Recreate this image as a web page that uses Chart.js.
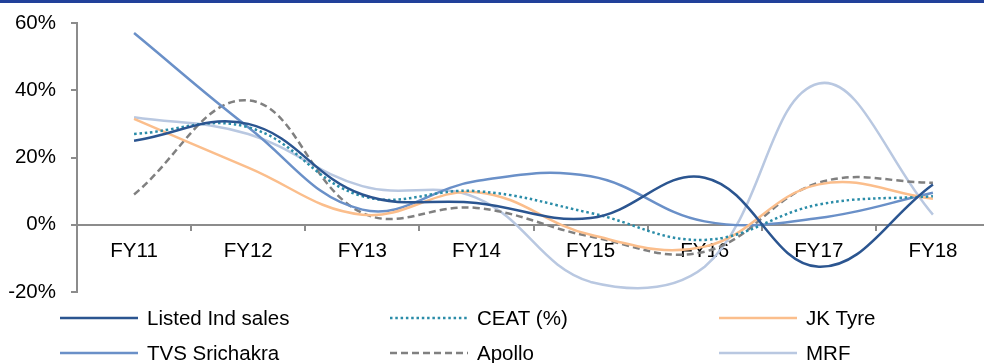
<!DOCTYPE html>
<html>
<head>
<meta charset="utf-8">
<script src="https://cdn.jsdelivr.net/npm/chart.js@4.4.1/dist/chart.umd.min.js"></script>
<style>
  html, body { margin: 0; padding: 0; background: #fff; overflow: hidden; }
  #wrap { position: relative; width: 984px; height: 363px; overflow: hidden; }
  #topBar { position: absolute; left: 0; top: 0; width: 984px; height: 3px; background: #21409a; }
  canvas { position: absolute; left: 0; top: 0; }
</style>
</head>
<body>
<div id="wrap">
  <canvas id="growthChart" width="994" height="363"></canvas>
  <div id="topBar"></div>
</div>
<script>
// yearly growth, in percent
const years = ['FY11', 'FY12', 'FY13', 'FY14', 'FY15', 'FY16', 'FY17', 'FY18'];
const listedIndSales = [25, 30, 9, 6.5, 2, 14, -12.5, 12];
const ceat = [27, 29, 8.5, 10, 3.5, -4.5, 6, 8.5];
const jkTyre = [31.5, 17, 3, 9.7, -3, -6.5, 12, 7.7];
const tvsSrichakra = [57, 29, 4.5, 13, 14.4, 1, 2, 9.5];
const apollo = [9, 37, 3.5, 5, -3.5, -8, 12.5, 12.5];
const mrf = [32, 27, 11.5, 8, -17, -12.5, 42, 3];
const yMin = -20;
const yMax = 60;
const yStep = 20;

const FONT = '"Liberation Sans", Arial, sans-serif';
const FONT_SIZE = 20.5;
const AXIS_GREY = '#8c8c8c';

const series = (label, data, color, dash) => ({
  label,
  data,
  borderColor: color,
  backgroundColor: color,
  borderWidth: 2.5,
  borderDash: dash || [],
  pointRadius: 0,
  pointHoverRadius: 0,
  tension: 0.4,
  fill: false,
});

// legend laid out as a 3 x 2 grid under the plot
const gridLegend = {
  id: 'gridLegend',
  afterDraw(chart) {
    const ctx = chart.ctx;
    const colX = [60, 390, 719];
    const rowY = [318, 353];
    ctx.save();
    ctx.font = FONT_SIZE + 'px ' + FONT;
    ctx.textBaseline = 'middle';
    ctx.fillStyle = '#000';
    chart.data.datasets.forEach((ds, i) => {
      const x = colX[i % 3];
      const y = rowY[Math.floor(i / 3)];
      ctx.strokeStyle = ds.borderColor;
      ctx.lineWidth = ds.borderWidth;
      ctx.setLineDash(ds.borderDash);
      ctx.beginPath();
      ctx.moveTo(x, y);
      ctx.lineTo(x + 78, y);
      ctx.stroke();
      ctx.fillText(ds.label, x + 87, y + 1);
    });
    ctx.restore();
  },
};

const ctx = document.getElementById('growthChart').getContext('2d');
new Chart(ctx, {
  type: 'line',
  data: {
    labels: years,
    datasets: [
      series('Listed Ind sales', listedIndSales, '#2b5590'),
      series('CEAT (%)', ceat, '#2a8ca8', [2.5, 2.8]),
      series('JK Tyre', jkTyre, '#fbbe8c'),
      series('TVS Srichakra', tvsSrichakra, '#6a90c8'),
      series('Apollo', apollo, '#808080', [7, 4]),
      series('MRF', mrf, '#b9c8e1'),
    ],
  },
  options: {
    responsive: false,
    animation: false,
    layout: { padding: { top: 23, right: 4, bottom: 71, left: 0 } },
    plugins: {
      legend: { display: false },
      tooltip: { enabled: false },
    },
    scales: {
      x: {
        type: 'category',
        position: { y: 0 },
        offset: true,
        afterFit(scale) {
          scale.paddingTop = 0;
          scale.paddingBottom = 0;
        },
        grid: {
          offset: true,
          drawOnChartArea: false,
          drawTicks: true,
          tickLength: 5,
          color: AXIS_GREY,
          lineWidth: 2,
        },
        border: { color: AXIS_GREY, width: 2 },
        ticks: {
          color: '#000',
          font: { family: FONT, size: FONT_SIZE },
          padding: 9,
          maxRotation: 0,
          autoSkip: false,
        },
      },
      y: {
        min: yMin,
        max: yMax,
        afterFit(scale) {
          scale.width = 77;
          scale.paddingTop = 0;
          scale.paddingBottom = 0;
        },
        grid: {
          drawOnChartArea: false,
          drawTicks: true,
          tickLength: 6,
          color: AXIS_GREY,
          lineWidth: 2,
        },
        border: { color: AXIS_GREY, width: 2 },
        ticks: {
          stepSize: yStep,
          color: '#000',
          font: { family: FONT, size: FONT_SIZE },
          padding: 15,
          callback: (v) => v + '%',
        },
      },
    },
  },
  plugins: [gridLegend],
});
</script>
</body>
</html>
